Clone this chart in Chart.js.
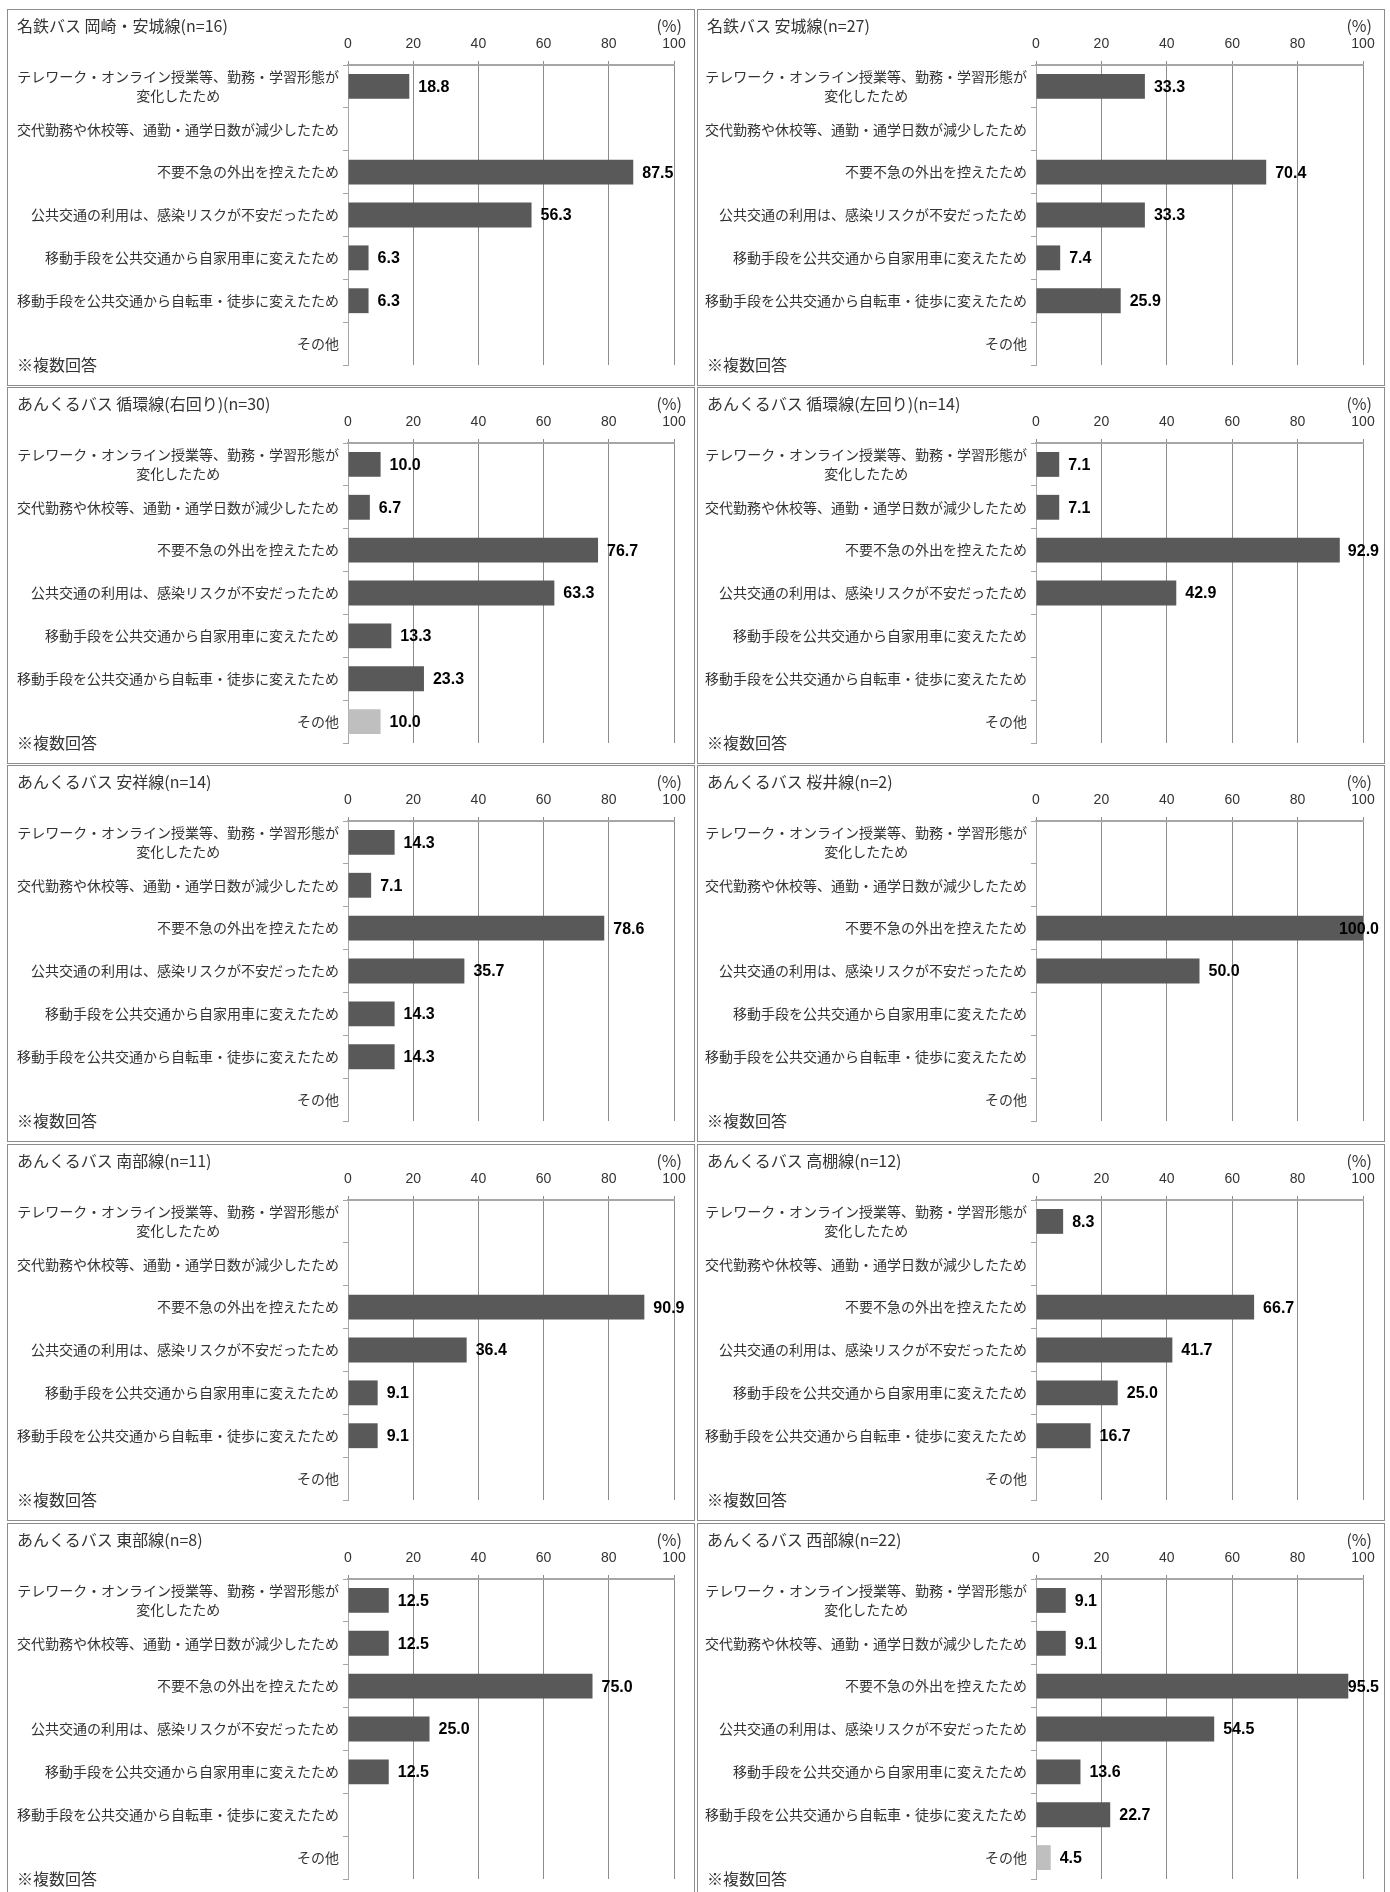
<!DOCTYPE html>
<html lang="ja">
<head>
<meta charset="utf-8">
<title>利用が減った理由（路線別）</title>
<script src="https://cdn.jsdelivr.net/npm/chart.js@4.4.1/dist/chart.umd.min.js"></script>
<style>
  body { margin: 0; width: 1390px; height: 1892px; position: relative; overflow: hidden; background: #fff;
         font-family: "Noto Sans CJK JP", sans-serif; color: #333; }
  .panel { position: absolute; border: 1px solid #8c8c8c; box-sizing: border-box; background: #fff; overflow: hidden; }
  .panel canvas { position: absolute; left: 0; top: 0; }
  .title { position: absolute; left: 9px; top: 3px; font-size: 16px; white-space: nowrap; }
  .unit { position: absolute; right: 12px; top: 3px; font-size: 16px; }
  .note { position: absolute; left: 9px; top: 342px; font-size: 16px; }
</style>
</head>
<body>
<script>
// categories (y axis)
const categories = [
  ['テレワーク・オンライン授業等、勤務・学習形態が', '変化したため'],
  '交代勤務や休校等、通勤・通学日数が減少したため',
  '不要不急の外出を控えたため',
  '公共交通の利用は、感染リスクが不安だったため',
  '移動手段を公共交通から自家用車に変えたため',
  '移動手段を公共交通から自転車・徒歩に変えたため',
  'その他'
];
const xTicks = [0, 20, 40, 60, 80, 100];

// panel titles
const titles = [
  '名鉄バス 岡崎・安城線(n=16)',
  '名鉄バス 安城線(n=27)',
  'あんくるバス 循環線(右回り)(n=30)',
  'あんくるバス 循環線(左回り)(n=14)',
  'あんくるバス 安祥線(n=14)',
  'あんくるバス 桜井線(n=2)',
  'あんくるバス 南部線(n=11)',
  'あんくるバス 高棚線(n=12)',
  'あんくるバス 東部線(n=8)',
  'あんくるバス 西部線(n=22)'
];

// values (%), null = no answer
const meitetsuOkazakiAnjo = [18.8, null, 87.5, 56.3, 6.3, 6.3, null];
const meitetsuAnjo        = [33.3, null, 70.4, 33.3, 7.4, 25.9, null];
const junkanRight         = [10.0, 6.7, 76.7, 63.3, 13.3, 23.3, 10.0];
const junkanLeft          = [7.1, 7.1, 92.9, 42.9, null, null, null];
const anshou              = [14.3, 7.1, 78.6, 35.7, 14.3, 14.3, null];
const sakurai             = [null, null, 100.0, 50.0, null, null, null];
const nanbu               = [null, null, 90.9, 36.4, 9.1, 9.1, null];
const takatana            = [8.3, null, 66.7, 41.7, 25.0, 16.7, null];
const toubu               = [12.5, 12.5, 75.0, 25.0, 12.5, null, null];
const seibu               = [9.1, 9.1, 95.5, 54.5, 13.6, 22.7, 4.5];

const seriesList = [meitetsuOkazakiAnjo, meitetsuAnjo, junkanRight, junkanLeft, anshou,
                    sakurai, nanbu, takatana, toubu, seibu];

// layout
const colX = [7, 697];
const rowY = [9, 387, 765, 1144, 1523];
const panelW = 688, panelH = 377;
const plotLeft = [340, 338];
const plotRight = [666, 665];
const plotTop = 55, plotBottom = 355;

const barColor = '#595959';
const otherColor = '#bfbfbf';

const labelPlugin = {
  id: 'panelLabels',
  afterDatasetsDraw(chart) {
    const { ctx, chartArea, scales: { y, x } } = chart;
    ctx.save();
    ctx.fillStyle = '#333';
    ctx.textBaseline = 'middle';
    ctx.font = '14px "Noto Sans CJK JP"';
    const right = chartArea.left - 9;
    categories.forEach((lab, i) => {
      const cy = y.getPixelForValue(i);
      if (Array.isArray(lab)) {
        const w = Math.max(...lab.map(s => ctx.measureText(s).width));
        ctx.textAlign = 'center';
        lab.forEach((s, j) => ctx.fillText(s, right - w / 2, cy + (j - (lab.length - 1) / 2) * 19));
      } else {
        ctx.textAlign = 'right';
        ctx.fillText(lab, right, cy);
      }
    });

    // value labels
    ctx.font = 'bold 16px "Liberation Sans", Arial, sans-serif';
    ctx.fillStyle = '#000';
    ctx.textAlign = 'left';
    const data = chart.data.datasets[0].data;
    data.forEach((v, i) => {
      if (v == null) return;
      const txt = v.toFixed(1);
      const w = ctx.measureText(txt).width;
      let tx = x.getPixelForValue(v) + 9;
      tx = Math.min(tx, chart.width - 5 - w);
      ctx.fillText(txt, tx, y.getPixelForValue(i) + 1);
    });
    ctx.restore();
  }
};

seriesList.forEach((values, k) => {
  const col = k % 2, row = Math.floor(k / 2);
  const panel = document.createElement('div');
  panel.className = 'panel';
  panel.style.left = colX[col] + 'px';
  panel.style.top = rowY[row] + 'px';
  panel.style.width = panelW + 'px';
  panel.style.height = panelH + 'px';

  const canvas = document.createElement('canvas');
  const cw = panelW - 2, ch = panelH - 2;
  canvas.width = cw;
  canvas.height = ch;
  canvas.style.width = cw + 'px';
  canvas.style.height = ch + 'px';
  panel.appendChild(canvas);

  const title = document.createElement('div');
  title.className = 'title';
  title.textContent = titles[k];
  panel.appendChild(title);

  const unit = document.createElement('div');
  unit.className = 'unit';
  unit.textContent = '(%)';
  panel.appendChild(unit);

  const note = document.createElement('div');
  note.className = 'note';
  note.textContent = '※複数回答';
  panel.appendChild(note);

  document.body.appendChild(panel);

  new Chart(canvas, {
    type: 'bar',
    data: {
      labels: categories.map(c => Array.isArray(c) ? c.join('') : c),
      datasets: [{
        data: values,
        backgroundColor: values.map((v, i) => i === categories.length - 1 ? otherColor : barColor),
        borderWidth: 0,
        barPercentage: 0.58,
        categoryPercentage: 1
      }]
    },
    options: {
      indexAxis: 'y',
      responsive: false,
      animation: false,
      devicePixelRatio: 1,
      layout: { padding: { left: 0, top: 0, right: cw - plotRight[col], bottom: ch - plotBottom } },
      plugins: { legend: { display: false }, tooltip: { enabled: false } },
      scales: {
        x: {
          position: 'top',
          min: 0,
          max: 100,
          afterBuildTicks: s => { s.ticks = xTicks.map(v => ({ value: v })); },
          ticks: { padding: 8, color: '#333', font: { family: '"Liberation Sans", Arial', size: 14 } },
          grid: { color: '#8c8c8c', tickLength: 4 },
          border: { color: '#a6a6a6', width: 2 },
          afterFit: s => { s.height = plotTop; }
        },
        y: {
          ticks: { display: false },
          grid: { drawOnChartArea: false, tickLength: 5, color: '#a6a6a6', offset: true },
          border: { color: '#a6a6a6', width: 1 },
          afterFit: s => { s.width = plotLeft[col]; }
        }
      }
    },
    plugins: [labelPlugin]
  });
});
</script>
</body>
</html>
